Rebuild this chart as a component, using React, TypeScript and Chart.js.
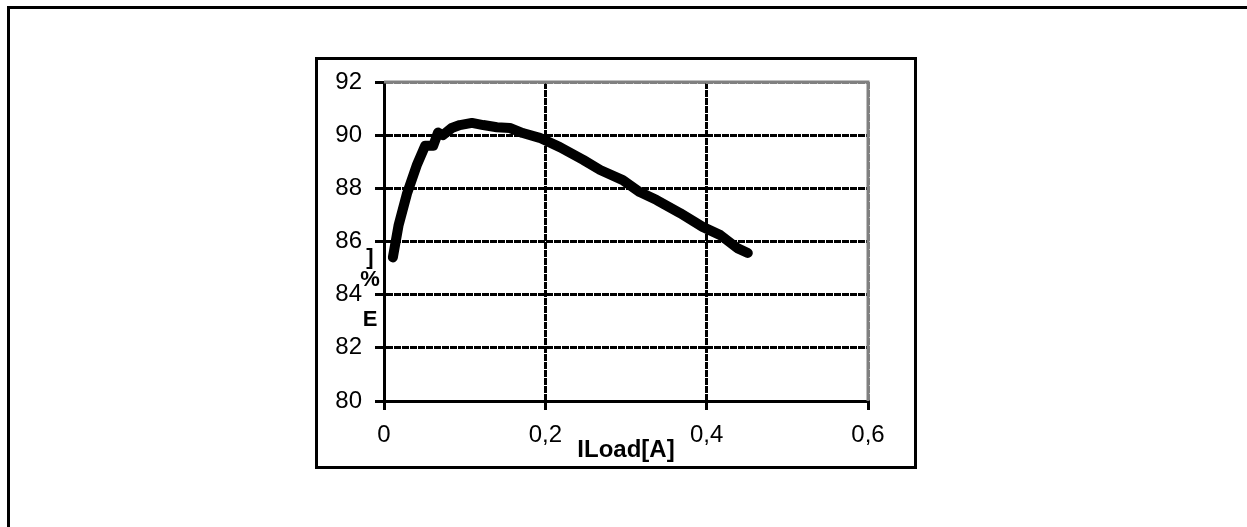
import React, { useEffect, useRef } from "react";
import { Chart, registerables } from "chart.js";

Chart.register(...registerables);

// Load current [A]
const loadCurrent = [
  0.011, 0.018, 0.0285, 0.041, 0.051, 0.061, 0.067, 0.073, 0.084, 0.094, 0.109,
  0.123, 0.14, 0.156, 0.172, 0.193, 0.218, 0.247, 0.268, 0.296, 0.317, 0.338,
  0.367, 0.395, 0.417, 0.438, 0.451,
];
// Efficiency [%]
const efficiency = [
  85.4, 86.6, 87.8, 88.9, 89.6, 89.6, 90.1, 90.0, 90.27, 90.38, 90.46, 90.38,
  90.3, 90.27, 90.08, 89.9, 89.55, 89.07, 88.69, 88.31, 87.86, 87.56, 87.07,
  86.55, 86.24, 85.75, 85.57,
];

const xTickValues = [0, 0.2, 0.4, 0.6];
const xTickLabels = ["0", "0,2", "0,4", "0,6"];
const yTickValues = [80, 82, 84, 86, 88, 90, 92];
const yTickLabels = ["80", "82", "84", "86", "88", "90", "92"];
const xTitle = "ILoad[A]";
const yTitleChars = ["]", "%", "E"];

const FONT = "'Liberation Sans', Arial, Helvetica, sans-serif";
const GRAY = "#808080";

export default function App() {
  const ref = useRef<HTMLCanvasElement>(null);

  useEffect(() => {
    const canvas = ref.current;
    if (!canvas) return;

    const plotBorderPlugin = {
      id: "plotBorder",
      beforeDatasetsDraw(chart: any) {
        const { ctx, chartArea } = chart;
        ctx.save();
        ctx.strokeStyle = GRAY;
        ctx.lineWidth = 3;
        ctx.setLineDash([]);
        ctx.beginPath();
        ctx.moveTo(chartArea.left, chartArea.top);
        ctx.lineTo(chartArea.right, chartArea.top);
        ctx.lineTo(chartArea.right, chartArea.bottom);
        ctx.stroke();
        ctx.restore();
      },
    };

    const yTitlePlugin = {
      id: "yTitleStacked",
      afterDraw(chart: any) {
        const { ctx, chartArea } = chart;
        ctx.save();
        ctx.fillStyle = "#000";
        ctx.textAlign = "center";
        ctx.textBaseline = "middle";
        ctx.font = `bold 22px ${FONT}`;
        const x = chartArea.left - 14;
        const offsets = [176, 198, 238];
        yTitleChars.forEach((ch, i) => {
          ctx.fillText(ch, x, chartArea.top + offsets[i]);
        });
        ctx.restore();
      },
    };

    const tickFont = { family: FONT, size: 24 };

    const chart = new Chart(canvas, {
      type: "line",
      data: {
        datasets: [
          {
            data: loadCurrent.map((x, i) => ({ x, y: efficiency[i] })),
            borderColor: "#000",
            backgroundColor: "#000",
            borderWidth: 10,
            pointRadius: 0,
            tension: 0,
            fill: false,
            borderJoinStyle: "round",
            borderCapStyle: "round",
          } as any,
        ],
      },
      options: {
        animation: false,
        responsive: false,
        devicePixelRatio: 1,
        layout: { padding: { left: 284, right: 379, top: 82, bottom: 62 } },
        plugins: {
          legend: { display: false },
          tooltip: { enabled: false },
          title: { display: false },
        },
        scales: {
          x: {
            type: "linear",
            min: 0,
            max: 0.6,
            afterBuildTicks: (s: any) => {
              s.ticks = xTickValues.map((v) => ({ value: v }));
            },
            afterFit: (s: any) => {
              s.height = 64;
            },
            ticks: {
              callback: (_v: any, i: number) => xTickLabels[i],
              font: tickFont,
              color: "#000",
              padding: 11,
              maxRotation: 0,
              autoSkip: false,
            },
            grid: {
              color: (c: any) =>
                c.tick && Math.abs(c.tick.value - 0.6) < 1e-9 ? GRAY : "#000",
              lineWidth: 3,
              tickLength: 9,
              tickColor: "#000",
              tickWidth: 3,
              tickBorderDash: [],
            },
            border: { display: true, color: "#000", width: 3, dash: [7, 1] },
            title: {
              display: true,
              text: xTitle,
              font: { family: FONT, size: 24, weight: "bold" },
              color: "#000",
              padding: 0,
            },
          } as any,
          y: {
            type: "linear",
            min: 80,
            max: 92,
            afterBuildTicks: (s: any) => {
              s.ticks = yTickValues.map((v) => ({ value: v }));
            },
            afterFit: (s: any) => {
              s.width = 100;
            },
            ticks: {
              callback: (_v: any, i: number) => yTickLabels[i],
              font: tickFont,
              color: "#000",
              padding: 13,
              autoSkip: false,
            },
            grid: {
              color: (c: any) => (c.tick && c.tick.value === 92 ? GRAY : "#000"),
              lineWidth: 3,
              tickLength: 9,
              tickColor: "#000",
              tickWidth: 3,
              tickBorderDash: [],
            },
            border: { display: true, color: "#000", width: 3, dash: [7, 1] },
          } as any,
        },
      },
      plugins: [plotBorderPlugin, yTitlePlugin],
    });

    return () => chart.destroy();
  }, []);

  return (
    <div
      style={{
        position: "absolute",
        left: 0,
        top: 0,
        width: 1247,
        height: 527,
        overflow: "hidden",
        background: "#fff",
      }}
    >
      <div
        style={{
          position: "absolute",
          left: 7,
          top: 6,
          width: 1400,
          height: 700,
          border: "3px solid #000",
          boxSizing: "border-box",
        }}
      />
      <div
        style={{
          position: "absolute",
          left: 315,
          top: 57,
          width: 602,
          height: 412,
          border: "3px solid #000",
          boxSizing: "border-box",
        }}
      />
      <canvas
        ref={ref}
        width={1247}
        height={527}
        style={{ position: "absolute", left: 0, top: 0, width: 1247, height: 527 }}
      />
    </div>
  );
}
